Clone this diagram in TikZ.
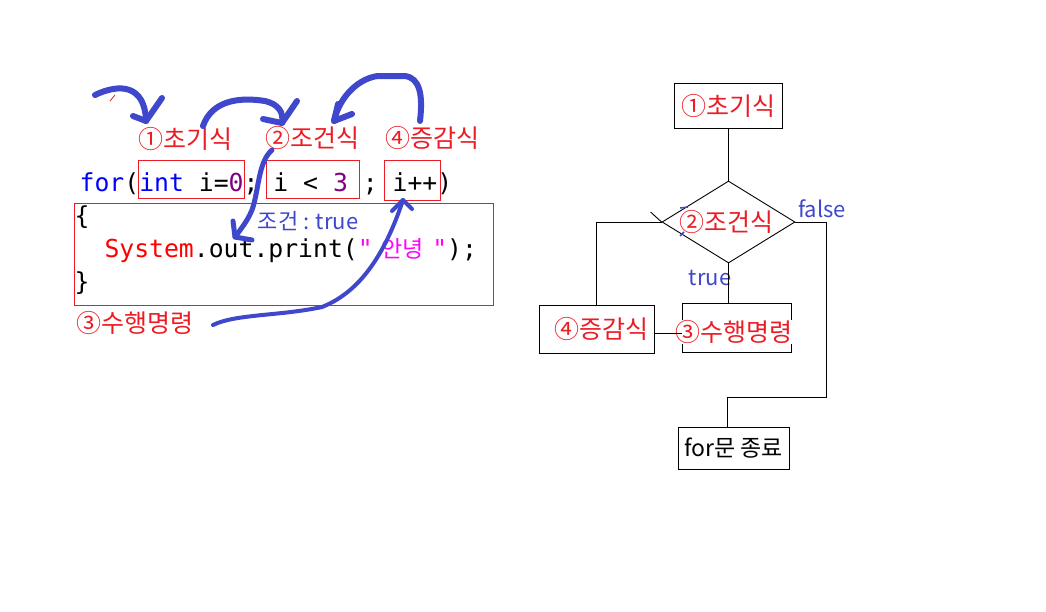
\documentclass[tikz,border=0pt]{standalone}
\usepackage{fontspec}
\setmainfont{Noto Sans CJK KR}
\setmonofont{DejaVu Sans Mono}
\newfontfamily\cjk{Noto Sans CJK KR}
\usepackage{xcolor}
\usetikzlibrary{shapes.geometric,positioning}
\definecolor{pred}{RGB}{237,28,36}
\definecolor{pblue}{RGB}{63,72,204}
\definecolor{cblue}{RGB}{0,0,255}
\definecolor{cpurple}{RGB}{128,0,128}
\definecolor{cmag}{RGB}{255,0,255}

\begin{document}
\begin{tikzpicture}[x = 1pt, y = -1pt]
	\tikzstyle{every node} = [inner sep = 0]
	\tikzstyle{code} = [font = \ttfamily\fontsize{24.75}{30}\selectfont, anchor = base west]
	\tikzstyle{lbl} = [font = \fontsize{25}{26}\selectfont, text = pred]
	\tikzstyle{note} = [font = \fontsize{22}{24}\selectfont, text = pblue]
	\tikzstyle{rbox} = [draw = pred, line width = 1pt]
	\tikzstyle{box} = [draw = black, line width = 0.9pt]
	\tikzstyle{pen} = [draw = pblue, line width = 6pt, line cap = round, line join = round]
\useasboundingbox[fill = white] (0,0) rectangle (1046,611);
\node[code] (10) at (79.5,191) {\textcolor{cblue}{for}(\textcolor{cblue}{int} i=\textcolor{cpurple}{0}; i < \textcolor{cpurple}{3} ; i++)};
\node[code] (11) at (74.5,224) {\{};
\node[code] (12) at (104.3,257) {\textcolor{red}{System}.out.print(\textcolor{cmag}{"\makebox[59.6pt]{\cjk\fontsize{23}{23}\selectfont 안녕}"});};
\node[code] (13) at (74.5,290) {\}};
\node[rbox, minimum width = 106, minimum height = 38] (14) at (191,179) {};
\node[rbox, minimum width = 93, minimum height = 38] (15) at (312.5,179) {};
\node[rbox, minimum width = 56, minimum height = 40] (16) at (412,180) {};
\node[rbox, minimum width = 419, minimum height = 102] (17) at (283.5,254) {};
\node[lbl] (5) at (185,139) {①초기식};
\node[lbl] (6) at (312,138) {②조건식};
\node[lbl] (7) at (432,138) {④증감식};
\node[lbl] (8) at (135,323) {③수행명령};
\node[note] (9) at (308,221) {조건 : true};
	\path[draw = pred, line width = 0.8pt] (110,101) -- (115,95);
	\path[pen] (95,95) .. controls (120,83) and (145,85) .. (146,121);
	\path[pen] (133,116) -- (146,121) -- (162,98);
	\path[pen] (203,126) .. controls (212,100) and (240,97) .. (265,101) .. controls (278,104) and (284,112) .. (282,123);
	\path[pen] (263,119) -- (282,123) -- (297,101);
	\path[pen] (420,121) .. controls (423,95) and (420,78) .. (405,76) -- (378,76) .. controls (360,78) and (340,95) .. (334,121);
	\path[pen] (338,104) -- (334,121) -- (352,114);
	\path[pen, line width = 5pt] (272,150) .. controls (258,162) and (259,190) .. (252,210) .. controls (247,222) and (240,230) .. (235,237);
	\path[pen, line width = 5pt] (233,221) -- (235,237) -- (252,240);
	\path[pen, line width = 4pt] (213,325) .. controls (235,314) and (280,316) .. (322,307) .. controls (365,290) and (388,245) .. (403,200);
	\path[pen, line width = 4pt] (392,211) -- (403,200) -- (412,209);
\node[box, lbl, minimum width = 108, minimum height = 45] (0) at (728.5,105.5) {①초기식};
\node[box, diamond, minimum width = 133, minimum height = 82] (1) at (728.5,222) {};
\node[lbl] (22) at (726,222) {②조건식};
\node[box, minimum width = 115, minimum height = 48] (2) at (596.5,329) {};
\node[lbl] (23) at (601,329) {④증감식};
\node[box, minimum width = 109, minimum height = 49] (3) at (736.5,327.5) {};
\node[lbl, fill = white] (18) at (734,332) {③수행명령};
\node[box, minimum width = 111, minimum height = 42, font = \fontsize{23}{24}\selectfont] (4) at (733.5,448) {for문 종료};
\node[note] (20) at (822,209) {false};
\node[note] (21) at (710,278) {true};
\coordinate (19) at (826,397);
	\path[box] (0) -- (1);
	\path[box] (1.east) -| (19) -| ([xshift = -6.5pt]4.north);
	\path[box] (1.west) -| (2.north);
	\path[box] (1.west) -- ++(-11,-10);
	\path[box] (1.south) -- (1.south |- 3.north);
	\path[box] ([yshift = -4pt]2.east) -- ([yshift = -4pt]2.east -| 3.west);
	\path[draw = pblue, line width = 1.5pt] (680,208) -- (688,207);
	\path[draw = pblue, line width = 1.5pt] (680,236) -- (684,232);
\end{tikzpicture}
\end{document}
